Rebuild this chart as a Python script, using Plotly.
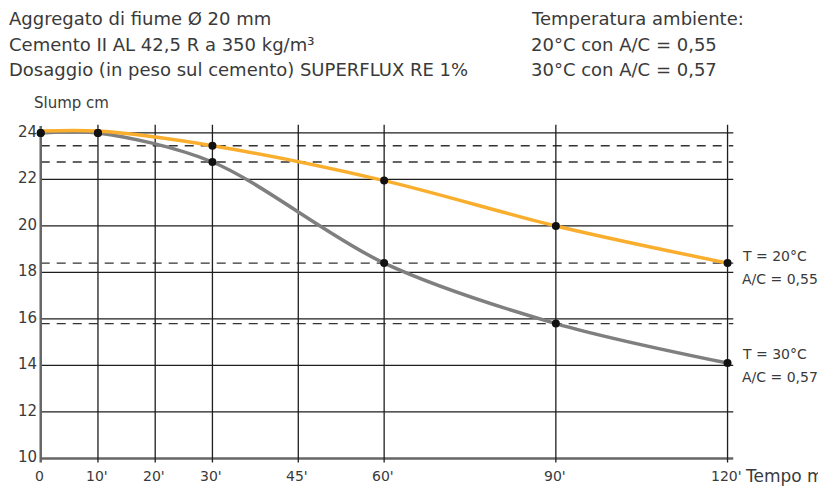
import plotly.graph_objects as go

# ---- data ----
minutes = [0, 10, 30, 60, 90, 120]
slump_20C = [24.0, 24.0, 23.45, 21.95, 20.0, 18.4]
slump_30C = [24.0, 24.0, 22.75, 18.4, 15.8, 14.1]
x_ticks = [0, 10, 20, 30, 45, 60, 90, 120]
x_tick_text = ["0", "10'", "20'", "30'", "45'", "60'", "90'", "120'"]
y_ticks = [10, 12, 14, 16, 18, 20, 22, 24]
dashed_levels = [23.45, 22.75, 18.4, 15.8]
header_left = ["Aggregato di fiume Ø 20 mm", "Cemento II AL 42,5 R a 350 kg/m³",
               "Dosaggio (in peso sul cemento) SUPERFLUX RE 1%"]
header_right = ["Temperatura ambiente:", "20°C con A/C = 0,55", "30°C con A/C = 0,57"]
label_20C = ["T = 20°C", "A/C = 0,55"]
label_30C = ["T = 30°C", "A/C = 0,57"]

ORANGE = "#F9AE2E"
GREY = "#7F7F7F"
INK = "#1e1e1e"
TXT = "#3a3a3a"
FONT = "DejaVu Sans"

W, H = 826, 488
ML, MR, MT, MB = 27.3, 94.5, 111.1, 26.4
PW, PH = W - ML - MR, H - MT - MB


def px(xp, yp):
    """figure pixel -> paper coords"""
    return (xp - ML) / PW, 1 - (yp - MT) / PH


fig = go.Figure()

shapes = []
for yv in y_ticks:
    if yv == 10:
        shapes.append(dict(type="line", xref="x", yref="y", x0=0, x1=121, y0=yv, y1=yv,
                           line=dict(color="#666666", width=2.5), layer="below"))
    else:
        shapes.append(dict(type="line", xref="x", yref="y", x0=0, x1=121, y0=yv, y1=yv,
                           line=dict(color=INK, width=1.3), layer="below"))
for yv in dashed_levels:
    shapes.append(dict(type="line", xref="x", yref="y", x0=0, x1=121, y0=yv, y1=yv,
                       line=dict(color="#333333", width=1.3, dash="9px,7px"), layer="below"))
for xv in x_ticks:
    if xv == 0:
        shapes.append(dict(type="line", xref="x", yref="y", x0=xv, x1=xv, y0=9.82, y1=24.3,
                           line=dict(color="#666666", width=2.5), layer="below"))
    else:
        shapes.append(dict(type="line", xref="x", yref="y", x0=xv, x1=xv, y0=9.82, y1=24.35,
                           line=dict(color=INK, width=1.3), layer="below"))

fig.add_trace(go.Scatter(x=minutes, y=slump_30C, mode="lines",
                         line=dict(color=GREY, width=3.5, shape="spline", smoothing=0.9),
                         hoverinfo="skip", showlegend=False))
fig.add_trace(go.Scatter(x=minutes, y=[v + 0.08 if v >= 24 else v for v in slump_20C], mode="lines",
                         line=dict(color=ORANGE, width=3.5, shape="spline", smoothing=0.9),
                         hoverinfo="skip", showlegend=False))
for ys in (slump_20C, slump_30C):
    fig.add_trace(go.Scatter(x=minutes, y=ys, mode="markers",
                             marker=dict(color="#111111", size=8),
                             cliponaxis=False, showlegend=False))

ann = []
for yv in y_ticks:
    ann.append(dict(x=0, y=yv, xref="x", yref="y", text=str(yv), showarrow=False,
                    xanchor="right", yanchor="middle", xshift=-2, yshift=1,
                    font=dict(family=FONT, size=15, color=TXT)))
for xv, tt in zip(x_ticks, x_tick_text):
    ann.append(dict(x=xv, y=10, xref="x", yref="y", text=tt, showarrow=False,
                    xanchor="center", yanchor="middle", yshift=-18, xshift=-1,
                    font=dict(family=FONT, size=14, color=TXT)))
ann.append(dict(x=120, y=10, xref="x", yref="y", text="Tempo min", showarrow=False,
                xanchor="left", yanchor="middle", xshift=15, yshift=-18,
                font=dict(family=FONT, size=17, color=TXT)))
ann.append(dict(x=0, y=24, xref="x", yref="y", text="Slump cm", showarrow=False,
                xanchor="left", yanchor="middle", xshift=-9, yshift=30,
                font=dict(family=FONT, size=15, color=TXT)))
for lab, yv, ysh in ((label_20C, slump_20C[-1], 7), (label_30C, slump_30C[-1], 9)):
    for j, t in enumerate(lab):
        ann.append(dict(x=120, y=yv, xref="x", yref="y", text=t, showarrow=False,
                        xanchor="left", yanchor="middle", xshift=12, yshift=ysh - 23 * j,
                        font=dict(family=FONT, size=14, color=TXT)))
for i, t in enumerate(header_left):
    xx, yy = px(-1, 11 + 25.5 * i)
    ann.append(dict(x=xx, y=yy, xref="paper", yref="paper", text=t, showarrow=False,
                    xanchor="left", yanchor="middle", font=dict(family=FONT, size=18, color=TXT)))
for i, t in enumerate(header_right):
    xx, yy = px(521, 11 + 25.5 * i)
    ann.append(dict(x=xx, y=yy, xref="paper", yref="paper", text=t, showarrow=False,
                    xanchor="left", yanchor="middle", font=dict(family=FONT, size=18, color=TXT)))

fig.update_layout(
    width=W, height=H,
    margin=dict(l=ML, r=MR, t=MT, b=MB, autoexpand=False),
    paper_bgcolor="white", plot_bgcolor="white",
    xaxis=dict(range=[-1, 122], visible=False, fixedrange=True),
    yaxis=dict(range=[9.5, 24.6], visible=False, fixedrange=True),
    shapes=shapes,
    annotations=ann,
    showlegend=False,
)

fig.write_html("out.html")
